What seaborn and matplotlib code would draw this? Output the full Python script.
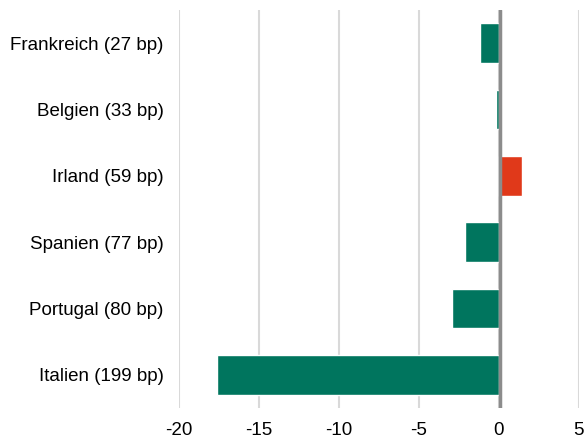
import matplotlib
matplotlib.use("Agg")
import matplotlib.pyplot as plt
import seaborn as sns
import pandas as pd

labels = ["Frankreich (27 bp)", "Belgien (33 bp)", "Irland (59 bp)",
          "Spanien (77 bp)", "Portugal (80 bp)", "Italien (199 bp)"]
values = [-1.2, -0.2, 1.45, -2.1, -2.9, -17.65]
green = "#00755e"
red = "#e0391a"


def main():
    sns.set_style("white")
    plt.rcParams["font.family"] = ["Liberation Sans", "DejaVu Sans"]
    plt.rcParams["axes.unicode_minus"] = False

    df = pd.DataFrame({"label": labels, "value": values})
    df["sign"] = ["pos" if v > 0 else "neg" for v in values]

    fig = plt.figure(figsize=(5.87, 4.41), dpi=100)
    ax = fig.add_axes([0.305, 0.075, 0.681, 0.902])
    sns.barplot(data=df, x="value", y="label", hue="sign", orient="h",
                palette={"neg": green, "pos": red}, width=0.6,
                dodge=False, legend=False, ax=ax, saturation=1)

    ax.set_xlim(-20, 5)
    ax.set_xticks([-20, -15, -10, -5, 0, 5])
    ax.xaxis.grid(True, color="#d9d9d9", linewidth=1.5)
    ax.set_axisbelow(True)
    ax.axvline(0.05, color="#8c8c8c", linewidth=2.5, zorder=5)
    for s in ax.spines.values():
        s.set_visible(False)
    ax.set_xlabel("")
    ax.set_ylabel("")
    ax.tick_params(axis="both", length=0, labelsize=13.5, colors="#000000")
    ax.tick_params(axis="x", pad=10)
    ax.tick_params(axis="y", pad=11)

    fig.savefig("out.png", dpi=100)


if __name__ == "__main__":
    main()
